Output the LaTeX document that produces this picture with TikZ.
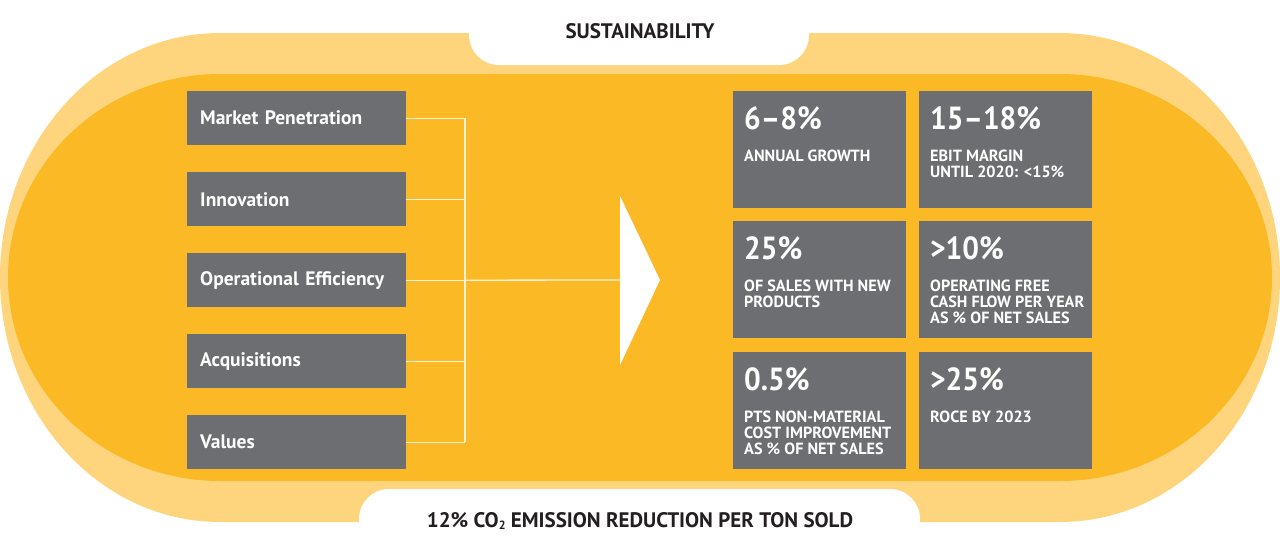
\documentclass[tikz,border=0pt]{standalone}
\usepackage{fontspec}
\setmainfont{PT Sans}
\newfontfamily\numfont{PT Sans}[FakeStretch=0.92]
\usetikzlibrary{positioning}
\definecolor{sunlight}{RGB}{254,212,124}
\definecolor{sunband}{RGB}{251,185,38}
\definecolor{slate}{RGB}{109,110,113}
\definecolor{inkdark}{RGB}{35,31,32}
\definecolor{wireclr}{RGB}{255,242,215}

\begin{document}
\begin{tikzpicture}[x=1pt, y=-1pt,
  every node/.style={font=\bfseries},
  driver/.style={fill=slate, text=white, minimum height=54pt, text width=193pt,
                 inner xsep=13pt, align=left, anchor=north west,
                 font=\fontsize{19.5}{21}\selectfont\bfseries},
  kpibox/.style={fill=slate, minimum width=173pt, minimum height=117pt,
                 anchor=north west, inner sep=0pt},
  kpinum/.style={text=white, anchor=north west, inner sep=0pt,
                 font=\numfont\fontsize{32}{34}\selectfont\bfseries},
  kpitxt/.style={text=white, anchor=north west, inner sep=0pt, align=left,
                 font=\fontsize{16.2}{16}\selectfont\bfseries},
  caption/.style={text=inkdark, font=\fontsize{21}{23}\selectfont\bfseries},
  wire/.style={draw=wireclr, line width=1.3pt}
]
\useasboundingbox (0,0) rectangle (1280,555);

% background bands
\fill[sunlight] (220,33) -- (1060,33)
  arc[start angle=-90, end angle=90, x radius=220, y radius=244.5]
  -- (220,522) arc[start angle=90, end angle=270, x radius=220, y radius=244.5] -- cycle;
\fill[sunband] (220,74) -- (1060,74)
  arc[start angle=-90, end angle=90, x radius=212, y radius=203.5]
  -- (220,481) arc[start angle=90, end angle=270, x radius=212, y radius=203.5] -- cycle;
\fill[white, rounded corners=30pt] (469,-40) -- (469,65) -- (809,65) -- (809,-40) -- cycle;
\fill[white, rounded corners=30pt] (359,600) -- (359,489) -- (920,489) -- (920,600) -- cycle;

\node[caption] (sust) at (640,31)  {SUSTAINABILITY};
\node[caption] (co2)  at (640,521)
  {12\% CO\raisebox{-2.5pt}{\fontsize{12}{12}\selectfont 2} EMISSION REDUCTION PER TON SOLD};

% drivers
\node[driver] (mkt) at (187,91)  {Market Penetration};
\node[driver] (inn) at (187,172) {Innovation};
\node[driver] (ops) at (187,253) {Operational Efficiency};
\node[driver] (acq) at (187,334) {Acquisitions};
\node[driver] (val) at (187,415) {Values};

\coordinate (spine) at (465,280);
\coordinate (arrowtail) at (620,280);
\foreach \n in {mkt,inn,ops,acq,val}
  \draw[wire] (\n.east) -- (\n.east -| spine);
\draw[wire] (mkt.east -| spine) -- (val.east -| spine);
\draw[wire] (ops.east -| spine) -- (arrowtail);
\fill[white] (620,196) -- (660,280) -- (620,365) -- cycle;

% targets
\node[kpibox] (k11) at (733,91)  {};
\node[kpibox] (k12) at (919,91)  {};
\node[kpibox] (k21) at (733,221) {};
\node[kpibox] (k22) at (919,221) {};
\node[kpibox] (k31) at (733,352) {};
\node[kpibox] (k32) at (919,352) {};

\foreach \b/\num/\txt in {
  k11/{6\textendash 8\%}/{ANNUAL GROWTH},
  k12/{15\textendash 18\%}/{EBIT MARGIN\\UNTIL 2020: <15\%},
  k21/{25\%}/{OF SALES WITH NEW\\PRODUCTS},
  k22/{>10\%}/{OPERATING FREE\\CASH FLOW PER YEAR\\AS \% OF NET SALES},
  k31/{0.5\%}/{PTS NON-MATERIAL\\COST IMPROVEMENT\\AS \% OF NET SALES},
  k32/{>25\%}/{ROCE BY 2023}} {
  \node[kpinum] (\b-num) at ([shift={(11pt,-15pt)}]\b.north west) {\num};
  \node[kpitxt] (\b-txt) at ([shift={(11pt,-59pt)}]\b.north west) {\txt};
}
\end{tikzpicture}
\end{document}
